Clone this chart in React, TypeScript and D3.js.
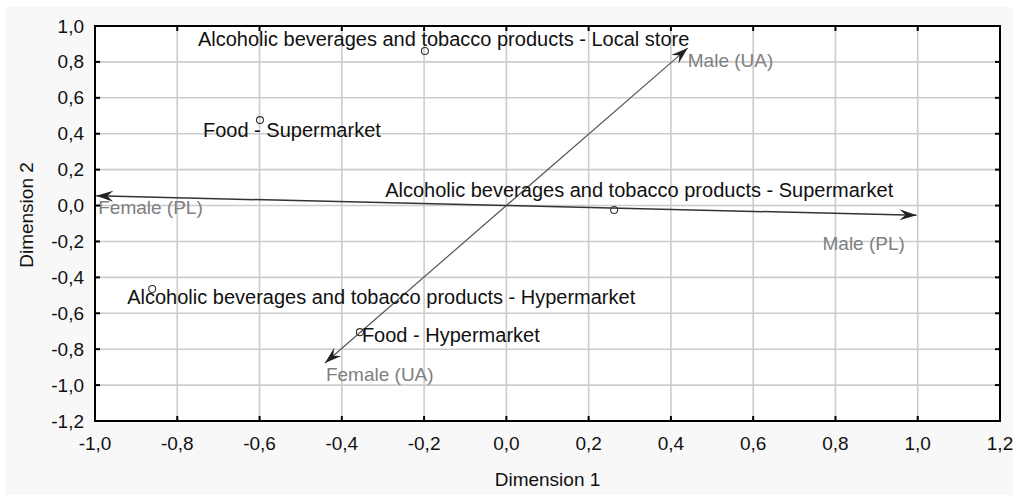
import React from "react";
import * as d3 from "d3";

const pointLabels = [
  "Alcoholic beverages and tobacco products - Local store",
  "Food - Supermarket",
  "Alcoholic beverages and tobacco products - Supermarket",
  "Alcoholic beverages and tobacco products - Hypermarket",
  "Food - Hypermarket",
];
const pointX = [-0.198, -0.599, 0.262, -0.861, -0.356];
const pointY = [0.861, 0.476, -0.025, -0.465, -0.705];

const vectorLabels = ["Male (UA)", "Female (UA)", "Male (PL)", "Female (PL)"];
const vectorX = [0.441, -0.441, 0.997, -0.997];
const vectorY = [0.877, -0.877, -0.054, 0.054];

const xTickValues = [-1.0, -0.8, -0.6, -0.4, -0.2, 0.0, 0.2, 0.4, 0.6, 0.8, 1.0, 1.2];
const yTickValues = [-1.2, -1.0, -0.8, -0.6, -0.4, -0.2, 0.0, 0.2, 0.4, 0.6, 0.8, 1.0];

const xTitle = "Dimension 1";
const yTitle = "Dimension 2";

// label offsets (pixels) — styling, not data
const pointLabelOffsets: [number, number][] = [
  [-227, -5],
  [-57, 17],
  [-229, -13],
  [-25, 15],
  [2, 10],
];
const vectorLabelOffsets: [number, number][] = [
  [0, 19],
  [1, 18],
  [-94, 35],
  [2, 18],
];
const vectorStroke = ["#555", "#555", "#333", "#333"];
const vectorWidth = [1.2, 1.2, 1.5, 1.5];

const W = 1013;
const H = 496;
const L = 95, R = 1000, T = 26, B = 421;

const fmt = (v: number) => {
  const s = v.toFixed(1).replace(".", ",");
  return s === "-0,0" ? "0,0" : s;
};

export default function App() {
  const x = d3.scaleLinear().domain([-1.0, 1.2]).range([L, R]);
  const y = d3.scaleLinear().domain([-1.2, 1.0]).range([B, T]);
  const font = "'Liberation Sans', Arial, sans-serif";
  const tick = 5;

  return (
    <svg width={W} height={H} style={{ position: "absolute", left: 0, top: 0 }} fontFamily={font}>
      <defs>
        <marker id="arr" markerUnits="userSpaceOnUse" viewBox="-18 -7 20 14" refX={0} refY={0}
          markerWidth={20} markerHeight={14} orient="auto">
          <path d="M0,0 L-17,-5.5 L-11,0 L-17,5.5 Z" fill="#222" />
        </marker>
      </defs>
      <rect x={0} y={0} width={W} height={H} fill="#ffffff" />
      <rect x={5} y={7} width={W - 5} height={H - 8} fill="#f8f8f8" />
      <rect x={L} y={T} width={R - L} height={B - T} fill="#ffffff" />
      {/* grid */}
      {xTickValues.slice(1, -1).map((v, i) => (
        <line key={"gx" + i} x1={x(v)} x2={x(v)} y1={T} y2={B} stroke="#cccccc" strokeWidth={1.6} />
      ))}
      {yTickValues.slice(1, -1).map((v, i) => (
        <line key={"gy" + i} x1={L} x2={R} y1={y(v)} y2={y(v)} stroke="#cccccc" strokeWidth={1.6} />
      ))}
      {/* vectors */}
      {vectorX.map((vx, i) => (
        <line key={"v" + i} x1={x(0)} y1={y(0)} x2={x(vx)} y2={y(vectorY[i])}
          stroke={vectorStroke[i]} strokeWidth={vectorWidth[i]} markerEnd="url(#arr)" />
      ))}
      {vectorLabels.map((lab, i) => (
        <text key={"vl" + i} x={x(vectorX[i]) + vectorLabelOffsets[i][0]}
          y={y(vectorY[i]) + vectorLabelOffsets[i][1]} fontSize={19} fill="#808080">{lab}</text>
      ))}
      {/* points */}
      {pointX.map((px, i) => (
        <circle key={"p" + i} cx={x(px)} cy={y(pointY[i])} r={3.5} fill="none" stroke="#333" strokeWidth={1.1} />
      ))}
      {pointLabels.map((lab, i) => (
        <text key={"pl" + i} x={x(pointX[i]) + pointLabelOffsets[i][0]}
          y={y(pointY[i]) + pointLabelOffsets[i][1]} fontSize={20} fill="#111">{lab}</text>
      ))}
      {/* frame */}
      <rect x={L} y={T} width={R - L} height={B - T} fill="none" stroke="#000" strokeWidth={2} />
      {/* ticks */}
      {xTickValues.map((v, i) => (
        <g key={"xt" + i}>
          <line x1={x(v)} x2={x(v)} y1={B} y2={B - tick} stroke="#000" strokeWidth={2} />
          <line x1={x(v)} x2={x(v)} y1={T} y2={T + tick} stroke="#000" strokeWidth={2} />
          <text x={x(v)} y={450} fontSize={19} textAnchor="middle" fill="#111">{fmt(v)}</text>
        </g>
      ))}
      {yTickValues.map((v, i) => (
        <g key={"yt" + i}>
          <line x1={L} x2={L + tick} y1={y(v)} y2={y(v)} stroke="#000" strokeWidth={2} />
          <line x1={R} x2={R - tick} y1={y(v)} y2={y(v)} stroke="#000" strokeWidth={2} />
          <text x={84} y={y(v) + 6.5} fontSize={19} textAnchor="end" fill="#111">{fmt(v)}</text>
        </g>
      ))}
      <text x={(L + R) / 2} y={486} fontSize={19} textAnchor="middle" fill="#111">{xTitle}</text>
      <text transform={`translate(33,${215}) rotate(-90)`} fontSize={19} textAnchor="middle" fill="#111">{yTitle}</text>
    </svg>
  );
}
